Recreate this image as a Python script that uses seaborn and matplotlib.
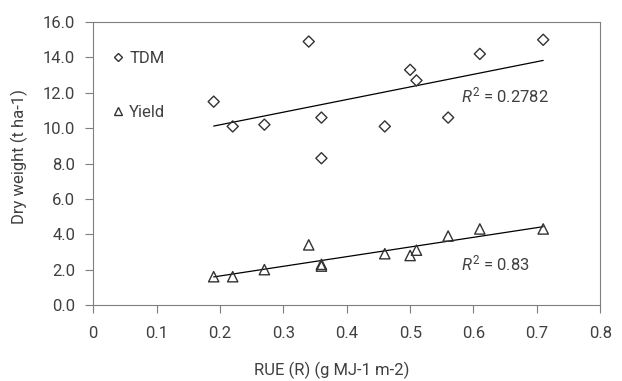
import numpy as np
import matplotlib.pyplot as plt
from matplotlib.lines import Line2D
import seaborn as sns

# RUE (x) and dry weight values
rue = [0.19, 0.22, 0.27, 0.34, 0.36, 0.36, 0.46, 0.50, 0.51, 0.56, 0.61, 0.71]
tdm = [11.5, 10.1, 10.2, 14.9, 10.6, 8.3, 10.1, 13.3, 12.7, 10.6, 14.2, 15.0]
grain_yield = [1.6, 1.6, 2.0, 3.4, 2.3, 2.2, 2.9, 2.8, 3.1, 3.9, 4.3, 4.3]

r2_tdm = "0.2782"
r2_yield = "0.83"

x_ticks = [0, 0.1, 0.2, 0.3, 0.4, 0.5, 0.6, 0.7, 0.8]
x_labels = ["0", "0.1", "0.2", "0.3", "0.4", "0.5", "0.6", "0.7", "0.8"]
y_ticks = [0, 2, 4, 6, 8, 10, 12, 14, 16]

sns.set_theme(style="ticks")
plt.rcParams["font.family"] = ["Roboto", "DejaVu Sans"]
plt.rcParams["mathtext.fontset"] = "custom"
plt.rcParams["mathtext.rm"] = "Roboto"
plt.rcParams["mathtext.it"] = "Roboto:italic"

text_col = "#404040"
edge_col = "#333333"
spine_col = "#7f7f7f"

fig = plt.figure(figsize=(6.22, 3.81), dpi=100)
ax = fig.add_axes([0.150, 0.1995, 0.815, 0.7425])

# scatter points
sns.scatterplot(x=rue, y=tdm, marker="D", s=32, facecolor="none",
                edgecolor=edge_col, linewidth=1.0, ax=ax, zorder=3)
sns.scatterplot(x=rue, y=grain_yield, marker="^", s=55, facecolor="none",
                edgecolor=edge_col, linewidth=1.0, ax=ax, zorder=3)

# linear trend lines
sns.regplot(x=np.array(rue), y=np.array(tdm), scatter=False, ci=None,
            color="black", line_kws=dict(lw=0.9), ax=ax)
sns.regplot(x=np.array(rue), y=np.array(grain_yield), scatter=False, ci=None,
            color="black", line_kws=dict(lw=0.9), ax=ax)

ax.text(0.58, 11.85, r"$R^2$ = " + r2_tdm, fontsize=12, color=text_col, va="center")
ax.text(0.58, 2.35, r"$R^2$ = " + r2_yield, fontsize=12, color=text_col, va="center")

ax.set_xlim(0, 0.8)
ax.set_ylim(0, 16)
ax.set_xticks(x_ticks)
ax.set_xticklabels(x_labels)
ax.set_yticks(y_ticks)
ax.set_yticklabels([f"{v:.1f}" for v in y_ticks])
ax.tick_params(axis="both", labelsize=12, labelcolor=text_col, color=spine_col,
               length=6, width=0.8, direction="out")
ax.tick_params(axis="x", pad=9)
ax.tick_params(axis="y", pad=7)

for sp in ax.spines.values():
    sp.set_visible(True)
    sp.set_color(spine_col)
    sp.set_linewidth(0.8)

ax.set_xlabel("RUE (R) (g MJ-1 m-2)", fontsize=12, color=text_col)
ax.set_ylabel("Dry weight (t ha-1)", fontsize=12, color=text_col)
ax.xaxis.set_label_coords(0.47, -0.2)
ax.yaxis.set_label_coords(-0.129, 0.526)

handles = [
    Line2D([], [], ls="none", marker="D", ms=4.5, mfc="none", mec=edge_col, mew=1.0),
    Line2D([], [], ls="none", marker="^", ms=6, mfc="none", mec=edge_col, mew=1.0),
]
ax.legend(handles, ["TDM", "Yield"], loc="upper left", bbox_to_anchor=(0.005, 0.95),
          frameon=False, fontsize=12, labelspacing=2.3, handlelength=0.8,
          handletextpad=0.3, labelcolor=text_col)

fig.savefig("out.png", dpi=100)
